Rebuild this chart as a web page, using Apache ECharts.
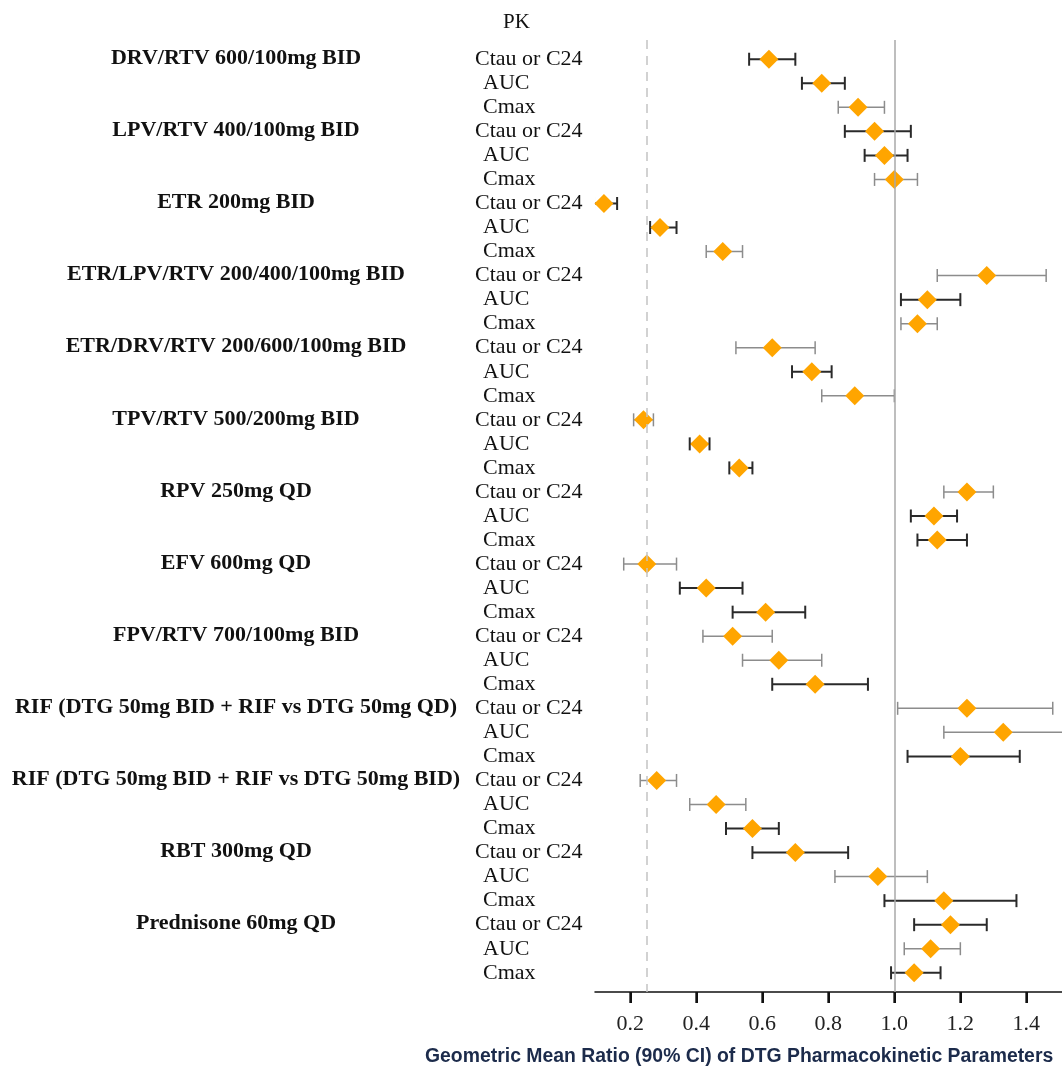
<!DOCTYPE html>
<html><head><meta charset="utf-8">
<script src="https://cdn.jsdelivr.net/npm/echarts@6/dist/echarts.min.js"></script>
<style>html,body{margin:0;padding:0;background:#fff}#c{width:1062px;height:1069px}</style>
</head><body><div id="c"></div>
<script>
// ---- data ----
const groups = [
  "DRV/RTV 600/100mg BID",
  "LPV/RTV 400/100mg BID",
  "ETR 200mg BID",
  "ETR/LPV/RTV 200/400/100mg BID",
  "ETR/DRV/RTV 200/600/100mg BID",
  "TPV/RTV 500/200mg BID",
  "RPV 250mg QD",
  "EFV 600mg QD",
  "FPV/RTV 700/100mg BID",
  "RIF (DTG 50mg BID + RIF vs DTG 50mg QD)",
  "RIF (DTG 50mg BID + RIF vs DTG 50mg BID)",
  "RBT 300mg QD",
  "Prednisone 60mg QD"
];
const params = ["Ctau or C24", "AUC", "Cmax"];
const gmr = [
  0.62, 0.78, 0.89,
  0.94, 0.97, 1.00,
  0.12, 0.29, 0.48,
  1.28, 1.10, 1.07,
  0.63, 0.75, 0.88,
  0.24, 0.41, 0.53,
  1.22, 1.12, 1.13,
  0.25, 0.43, 0.61,
  0.51, 0.65, 0.76,
  1.22, 1.33, 1.20,
  0.28, 0.46, 0.57,
  0.70, 0.95, 1.15,
  1.17, 1.11, 1.06
];
const ciLow = [
  0.56, 0.72, 0.83,
  0.85, 0.91, 0.94,
  0.09, 0.26, 0.43,
  1.13, 1.02, 1.02,
  0.52, 0.69, 0.78,
  0.21, 0.38, 0.50,
  1.15, 1.05, 1.07,
  0.18, 0.35, 0.51,
  0.42, 0.54, 0.63,
  1.01, 1.15, 1.04,
  0.23, 0.38, 0.49,
  0.57, 0.82, 0.97,
  1.06, 1.03, 0.99
];
const ciHigh = [
  0.70, 0.85, 0.97,
  1.05, 1.04, 1.07,
  0.16, 0.34, 0.54,
  1.46, 1.20, 1.13,
  0.76, 0.81, 1.00,
  0.27, 0.44, 0.57,
  1.30, 1.19, 1.22,
  0.34, 0.54, 0.73,
  0.63, 0.78, 0.92,
  1.48, 1.60, 1.38,
  0.34, 0.55, 0.65,
  0.86, 1.10, 1.37,
  1.28, 1.20, 1.14
];
const tickValues = [0.2, 0.4, 0.6, 0.8, 1.0, 1.2, 1.4];
const refLines = [0.25, 1.0];
const xAxisTitle = "Geometric Mean Ratio (90% CI) of DTG Pharmacokinetic Parameters";
const columnHeader = "PK";

// ---- style config (not data) ----
const darkWhiskerRows = [0,1,3,4,6,7,10,13,16,17,19,20,22,23,26,29,32,33,35,36,38];

// ---- build ----
const nRows = groups.length * params.length;
const yMin = -0.8, yMax = nRows - 1 + 0.8;
const rows = [];
for (let g = 0; g < groups.length; g++) {
  for (let p = 0; p < params.length; p++) rows.push({ g, p, i: g * params.length + p });
}
const barData = rows.map(r => [r.i, ciLow[r.i], ciHigh[r.i], darkWhiskerRows.includes(r.i) ? 1 : 0]);
const pointData = rows.map(r => [gmr[r.i], r.i]);
const paramLabelData = rows.map(r => [0.5, r.i, r.p]);
const groupLabelData = groups.map((name, g) => [0.5, g * params.length, g]);
const tickData = tickValues.map(v => [v, yMax]);

const serif = '"Liberation Serif", "Times New Roman", serif';

const chart = echarts.init(document.getElementById('c'));
chart.setOption({
  animation: false,
  backgroundColor: '#ffffff',
  title: {
    text: xAxisTitle,
    left: 420, top: 1042,
    textStyle: { fontFamily: '"Liberation Sans", Arial, sans-serif', fontWeight: 'bold', fontSize: 19.4, color: '#1c2b4b' }
  },
  graphic: [{
    type: 'text', left: 503, top: 12,
    style: { text: columnHeader, font: '21px ' + serif, fill: '#111' }
  }],
  grid: { left: 595, right: 0, top: 40, bottom: 77 },
  xAxis: {
    type: 'value', min: 0.093, max: 1.508,
    axisLine: { show: true, onZero: false, lineStyle: { color: '#111', width: 1.5 } },
    axisTick: { show: true, length: 11, lineStyle: { color: '#111', width: 2 }, customValues: tickValues },
    axisLabel: {
      customValues: tickValues, margin: 21,
      formatter: v => v.toFixed(1),
      fontFamily: serif, fontSize: 22, color: '#222'
    },
    splitLine: { show: false }
  },
  yAxis: {
    type: 'value', inverse: true, min: yMin, max: yMax,
    show: false
  },
  series: [
    {
      type: 'scatter', data: [], z: 1, silent: true,
      markLine: {
        silent: true, symbol: 'none', label: { show: false },
        data: [
          { xAxis: refLines[0], lineStyle: { color: '#c4c4c4', type: [9, 7], width: 1.5 } },
          { xAxis: refLines[1], lineStyle: { color: '#a8a8a8', type: 'solid', width: 1.5 } }
        ]
      }
    },
    {
      // tick marks below the x axis
      type: 'custom', z: 10, clip: false,
      encode: { x: 0, y: 1 },
      data: tickData,
      renderItem: function (p, api) {
        const pt = api.coord([api.value(0), api.value(1)]);
        return { type: 'rect', shape: { x: pt[0] - 1, y: pt[1], width: 2, height: 11 }, style: { fill: '#111' } };
      }
    },
    {
      type: 'custom', z: 3, clip: true, silent: true,
      encode: { x: [1, 2], y: 0 },
      data: barData,
      renderItem: function (params, api) {
        const row = api.value(0);
        const a = api.coord([api.value(1), row]);
        const b = api.coord([api.value(2), row]);
        const dark = api.value(3) === 1;
        const stroke = dark ? '#2a2a2a' : '#8c8c8c';
        const lw = dark ? 2 : 1.5;
        const h = 6.5;
        return {
          type: 'group',
          children: [
            { type: 'line', shape: { x1: a[0], y1: a[1], x2: b[0], y2: b[1] }, style: { stroke, lineWidth: lw } },
            { type: 'line', shape: { x1: a[0], y1: a[1] - h, x2: a[0], y2: a[1] + h }, style: { stroke, lineWidth: lw } },
            { type: 'line', shape: { x1: b[0], y1: b[1] - h, x2: b[0], y2: b[1] + h }, style: { stroke, lineWidth: lw } }
          ]
        };
      }
    },
    {
      type: 'scatter', z: 4, silent: true,
      symbol: 'diamond', symbolSize: [19, 19],
      itemStyle: { color: '#FFA500', opacity: 1 },
      data: pointData
    },
    {
      type: 'custom', z: 5, clip: false, silent: true,
      encode: { x: 0, y: 1 },
      data: paramLabelData,
      renderItem: function (p, api) {
        const row = api.value(1);
        const idx = api.value(2);
        const y = api.coord([api.value(0), row])[1];
        return {
          type: 'text',
          style: { text: params[idx], x: idx === 0 ? 475 : 483, y: y, font: '22px ' + serif, fill: '#111', align: 'left', verticalAlign: 'middle' }
        };
      }
    },
    {
      type: 'custom', z: 5, clip: false, silent: true,
      encode: { x: 0, y: 1 },
      data: groupLabelData,
      renderItem: function (p, api) {
        const row = api.value(1);
        const g = api.value(2);
        const y = api.coord([api.value(0), row])[1];
        return {
          type: 'text',
          style: { text: groups[g], x: 236, y: y - 1, font: 'bold 22px ' + serif, fill: '#111', align: 'center', verticalAlign: 'middle' }
        };
      }
    }
  ]
});
</script>
</body></html>
